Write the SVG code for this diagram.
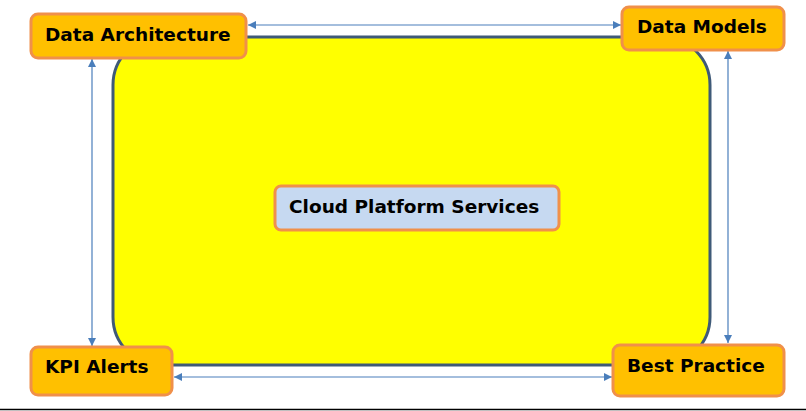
<svg xmlns="http://www.w3.org/2000/svg" width="806" height="411" viewBox="0 0 806 411">
<style>
.node{fill:#FFC000;stroke:#F0904A;stroke-width:3}
.center{fill:#C6D9F1;stroke:#F0904A;stroke-width:3}
.lbl{font-family:"DejaVu Sans",Verdana,sans-serif;font-weight:bold;font-size:18.5px;fill:#000}
.conn{stroke:#4A7EBB;stroke-width:1.2;fill:none;marker-start:url(#ah);marker-end:url(#ah)}
</style>
<defs>
<marker id="ah" viewBox="0 0 10 10" refX="10" refY="5" markerWidth="8" markerHeight="8" markerUnits="userSpaceOnUse" orient="auto-start-reverse">
<path d="M0,0 L10,5 L0,10 z" fill="#4A7EBB"/>
</marker>
</defs>
<rect width="806" height="411" fill="#fff"/>
<g id="platform">
<rect x="113" y="37" width="597" height="328" rx="48" ry="48" fill="#FFFF00" stroke="#3F5A78" stroke-width="3"/>
</g>
<g id="connectors">
<line class="conn" x1="248" y1="25" x2="621" y2="25"/>
<line class="conn" x1="92" y1="59" x2="92" y2="346"/>
<line class="conn" x1="728" y1="51" x2="728" y2="343"/>
<line class="conn" x1="174" y1="377" x2="612" y2="377"/>
</g>
<g id="data-architecture">
<rect class="node" x="31" y="14" width="215" height="44" rx="7"/>
<text class="lbl" x="45" y="41">Data Architecture</text>
</g>
<g id="data-models">
<rect class="node" x="622" y="7" width="162" height="43" rx="7"/>
<text class="lbl" x="637" y="33">Data Models</text>
</g>
<g id="kpi-alerts">
<rect class="node" x="31" y="347" width="141" height="48" rx="7"/>
<text class="lbl" x="45" y="373">KPI Alerts</text>
</g>
<g id="best-practice">
<rect class="node" x="613" y="345" width="171" height="51" rx="7"/>
<text class="lbl" x="627" y="372">Best Practice</text>
</g>
<g id="cloud-platform-services">
<rect class="center" x="275" y="186" width="284" height="44" rx="6"/>
<text class="lbl" x="289" y="213">Cloud Platform Services</text>
</g>
<line x1="0" y1="409.5" x2="806" y2="409.5" stroke="#000" stroke-width="1.5"/>
</svg>
